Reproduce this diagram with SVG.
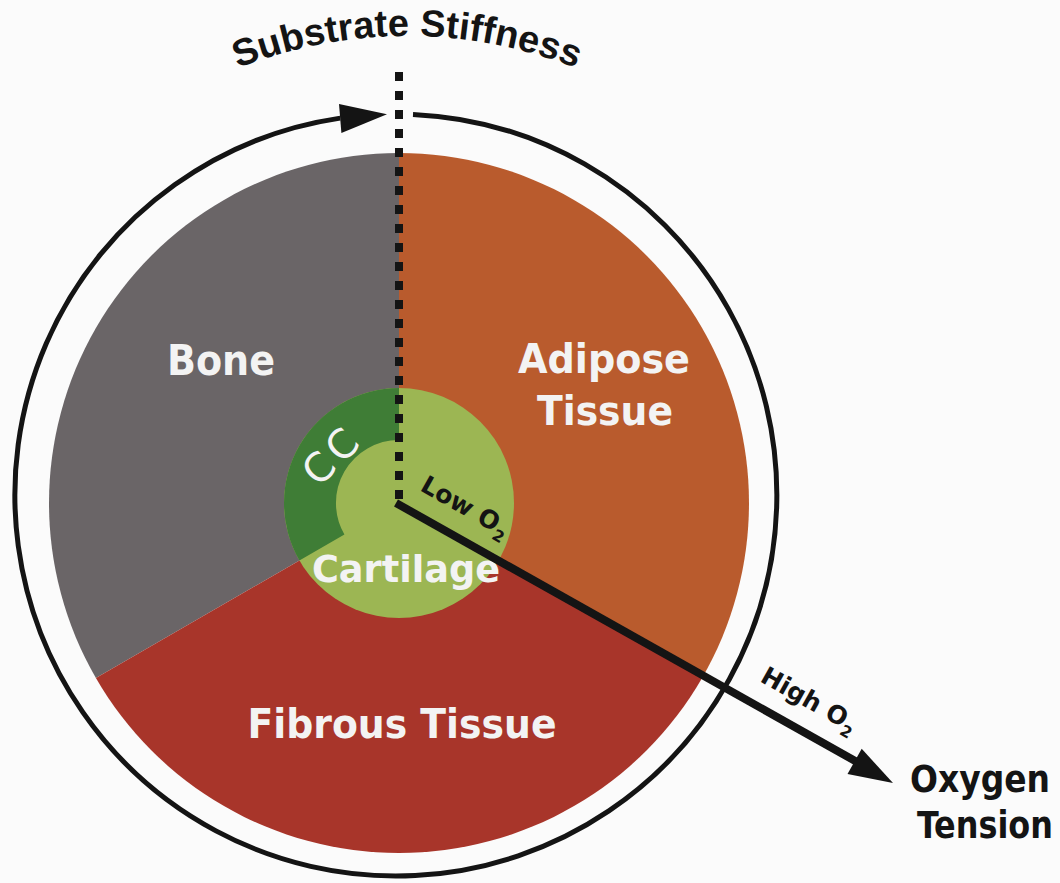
<svg xmlns="http://www.w3.org/2000/svg" width="1060" height="883" viewBox="0 0 1060 883">
<style>
.lbl{font-family:"DejaVu Sans Condensed","DejaVu Sans",sans-serif;font-weight:bold;fill:#f3f3f3;text-anchor:middle}
.dark{font-family:"DejaVu Sans Condensed","DejaVu Sans",sans-serif;font-weight:bold;fill:#141414;text-anchor:middle}
.small{font-family:"DejaVu Sans",sans-serif;font-weight:bold;fill:#141414;font-size:25px}
.title{font-family:"Liberation Sans",Arial,sans-serif;font-weight:bold;fill:#141414;font-size:38px}
.ink{stroke:#141414;fill:none}
</style>
<defs>
<path id="titleArc" d="M 110.7 143.9 A 461 461 0 0 1 703.3 143.9"/>
</defs>
<rect width="1060" height="883" fill="#fbfbfb"/>

<g id="bone">
<path d="M399,503 L399,153 A350,350 0 0 0 95.9,678 Z" fill="#6a6567"/>
<text class="lbl" x="221" y="375" font-size="42" textLength="108" lengthAdjust="spacingAndGlyphs">Bone</text>
</g>
<g id="adipose">
<path d="M399,503 L399,153 A350,350 0 0 1 702.1,678 Z" fill="#b95b2d"/>
<text class="lbl" x="604" y="373" font-size="41" textLength="172" lengthAdjust="spacingAndGlyphs">Adipose</text>
<text class="lbl" x="605" y="425" font-size="41" textLength="136" lengthAdjust="spacingAndGlyphs">Tissue</text>
</g>
<g id="fibrous">
<path d="M399,503 L95.9,678 A350,350 0 0 0 702.1,678 Z" fill="#a8352a"/>
<text class="lbl" x="402" y="738" font-size="41" textLength="309" lengthAdjust="spacingAndGlyphs">Fibrous Tissue</text>
</g>
<g id="cartilage">
<circle cx="399" cy="503" r="115" fill="#9cb653"/>
<text class="lbl" x="406" y="582" font-size="38" textLength="188" lengthAdjust="spacingAndGlyphs">Cartilage</text>
</g>
<g id="cc">
<path d="M399,388 A115,115 0 0 0 299.4,560.5 L344.4,534.5 A63,63 0 0 1 399,440 Z" fill="#3f7d36"/>
<text transform="translate(330,457) rotate(-45)" x="3" y="14" font-family="DejaVu Sans,sans-serif" font-size="40" fill="#f3f3f3" text-anchor="middle" letter-spacing="5">CC</text>
</g>

<g id="connectors">
<path class="ink" d="M 413 114.4 A 381 381 0 1 1 340.2 118.1" stroke-width="5"/>
<polygon points="387,114.2 341.4,133 339.0,104" fill="#141414"/>
<line x1="399" y1="72" x2="399" y2="506" stroke="#141414" stroke-width="8" stroke-dasharray="9 10"/>
<line x1="396" y1="503" x2="857" y2="762" stroke="#141414" stroke-width="8"/>
<polygon points="893,783 847.5,774 861.7,748.8" fill="#141414"/>
</g>

<g id="labels">
<text class="title"><textPath href="#titleArc" startOffset="50%" text-anchor="middle">Substrate Stiffness</textPath></text>
<text class="small" transform="translate(419,490) rotate(29.3)">Low O<tspan font-size="16" dy="7">2</tspan></text>
<text class="small" transform="translate(759,681) rotate(29.3)">High O<tspan font-size="16" dy="7">2</tspan></text>
<text class="dark" x="980" y="792" font-size="37" textLength="140" lengthAdjust="spacingAndGlyphs">Oxygen</text>
<text class="dark" x="985" y="838" font-size="37" textLength="136" lengthAdjust="spacingAndGlyphs">Tension</text>
</g>
</svg>
